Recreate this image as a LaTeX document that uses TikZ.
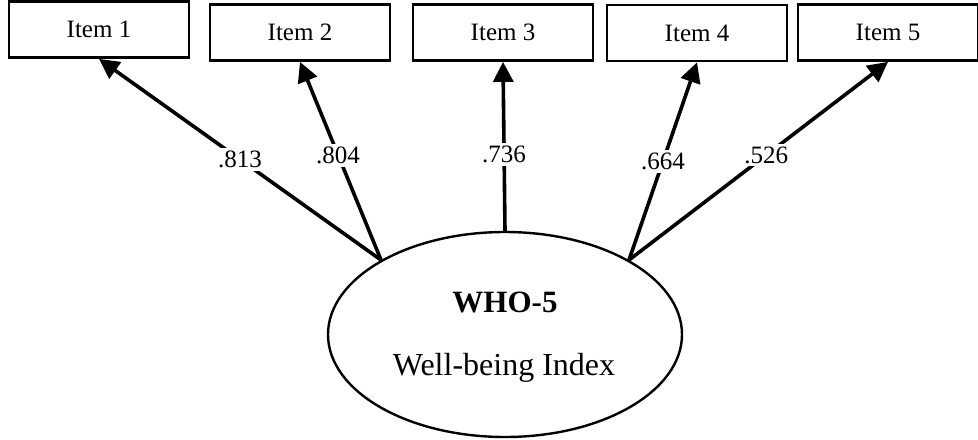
\documentclass[tikz,border=0pt]{standalone}
\usepackage{fontspec}
\setmainfont{Liberation Serif}
\usetikzlibrary{arrows.meta,shapes.geometric}
\begin{document}
\begin{tikzpicture}[x=0.5pt,y=-0.5pt,
  itembox/.style={draw,line width=1.4pt,minimum width=90pt,minimum height=28pt,inner sep=0pt,font=\fontsize{12.5}{14}\selectfont},
  latent/.style={draw,ellipse,line width=1.2pt,minimum width=177pt,minimum height=102.5pt,inner sep=0pt},
  loading/.style={line width=1.8pt,-{Triangle[length=10pt,width=10pt]}},
  coef/.style={fill=white,inner sep=1.5pt,font=\fontsize{12.5}{14}\selectfont}]
\useasboundingbox (0,0) rectangle (978,439);
\node[itembox] (i1) at (99,29.5) {Item 1};
\node[itembox] (i2) at (300,32.5) {Item 2};
\node[itembox] (i3) at (503,32.5) {Item 3};
\node[itembox] (i4) at (697,33) {Item 4};
\node[itembox] (i5) at (888,32.5) {Item 5};
\node[latent] (wb) at (505,334.5) {};
\node[font=\fontsize{15.5}{17}\selectfont\bfseries] (t1) at (505,302) {WHO-5};
\node[font=\fontsize{16}{18}\selectfont] (t2) at (504,368) {Well-being Index};
\draw[loading] (wb.149.7) -- node[coef,pos=0.5] {.813} (i1.south);
\draw[loading] (wb.149.7) -- node[coef,pos=0.53] {.804} (i2.south);
\draw[loading] (wb.north) -- node[coef,pos=0.45] {.736} (i3.south);
\draw[loading] (wb.31) -- node[coef,pos=0.5] {.664} (i4.south);
\draw[loading] (wb.31) -- node[coef,pos=0.53] {.526} (i5.south);
\end{tikzpicture}
\end{document}
